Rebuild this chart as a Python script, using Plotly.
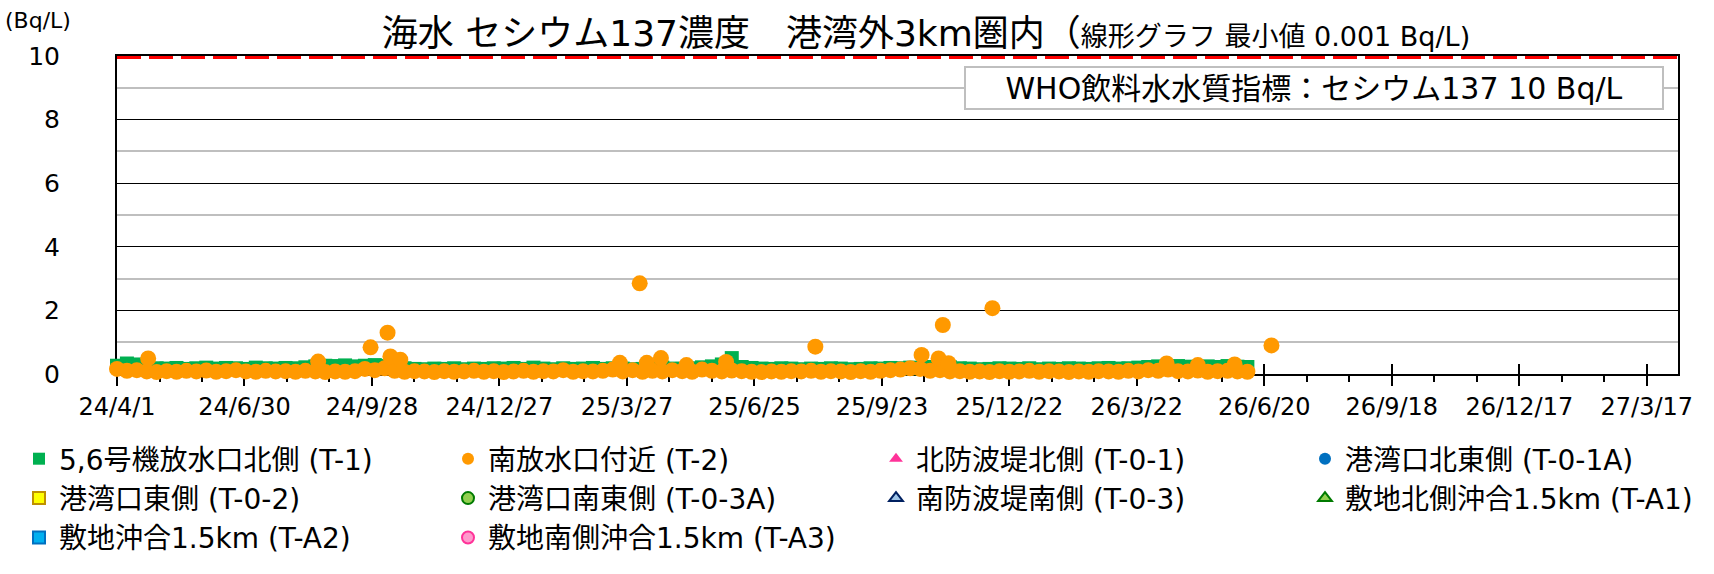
import plotly.graph_objects as go
import pandas as pd

# ---------------- data ----------------
START = "2024-04-01"
N_WEEKS = 115
weekly_dates = pd.date_range(START, periods=N_WEEKS, freq="7D")

# 5,6号機放水口北側 (T-1)  weekly readings (Bq/L)
t1_values = [
    0.26, 0.33, 0.30, 0.22, 0.18, 0.17, 0.19, 0.16, 0.18, 0.20,
    0.17, 0.19, 0.18, 0.16, 0.20, 0.18, 0.17, 0.19, 0.18, 0.21,
    0.24, 0.26, 0.25, 0.27, 0.24, 0.26, 0.28, 0.25, 0.22, 0.18,
    0.16, 0.15, 0.17, 0.16, 0.18, 0.15, 0.17, 0.16, 0.18, 0.17,
    0.19, 0.16, 0.20, 0.17, 0.15, 0.18, 0.16, 0.17, 0.19, 0.16,
    0.18, 0.17, 0.15, 0.16, 0.18, 0.20, 0.17, 0.16, 0.18, 0.21,
    0.24, 0.30, 0.50, 0.22, 0.19, 0.17, 0.16, 0.18, 0.17, 0.15,
    0.17, 0.16, 0.18, 0.17, 0.15, 0.16, 0.18, 0.17, 0.19, 0.18,
    0.20, 0.18, 0.22, 0.24, 0.21, 0.18, 0.17, 0.15, 0.16, 0.18,
    0.17, 0.16, 0.18, 0.15, 0.17, 0.16, 0.18, 0.17, 0.16, 0.18,
    0.19, 0.17, 0.18, 0.20, 0.22, 0.24, 0.22, 0.25, 0.23, 0.21,
    0.24, 0.22, 0.25, 0.23, 0.22,
]

# 南放水口付近 (T-2)  weekly readings (Bq/L)
t2_values = [
    0.16, 0.10, 0.12, 0.08, 0.06, 0.09, 0.07, 0.10, 0.08, 0.11,
    0.07, 0.09, 0.12, 0.08, 0.07, 0.10, 0.08, 0.09, 0.07, 0.10,
    0.08, 0.06, 0.08, 0.07, 0.09, 0.16, 0.12, 0.18, 0.10, 0.07,
    0.09, 0.08, 0.06, 0.09, 0.07, 0.08, 0.10, 0.07, 0.09, 0.06,
    0.08, 0.10, 0.07, 0.09, 0.08, 0.12, 0.07, 0.09, 0.08, 0.10,
    0.14, 0.08, 0.12, 0.07, 0.10, 0.08, 0.12, 0.09, 0.07, 0.14,
    0.10, 0.08, 0.11, 0.09, 0.07, 0.06, 0.08, 0.07, 0.09, 0.08,
    0.10, 0.07, 0.09, 0.08, 0.06, 0.09, 0.07, 0.10, 0.12, 0.14,
    0.18, 0.16, 0.10, 0.12, 0.08, 0.09, 0.07, 0.08, 0.06, 0.09,
    0.07, 0.08, 0.10, 0.07, 0.09, 0.08, 0.06, 0.08, 0.07, 0.09,
    0.08, 0.07, 0.10, 0.08, 0.12, 0.10, 0.14, 0.09, 0.08, 0.11,
    0.07, 0.09, 0.10, 0.08, 0.07,
]

# T-2 additional (higher) readings
t2_peak_dates = [
    "2024-04-23", "2024-08-21", "2024-09-27", "2024-10-09", "2024-10-11",
    "2024-10-18", "2025-03-22", "2025-04-05", "2025-04-10", "2025-04-20",
    "2025-05-08", "2025-06-05", "2025-08-07", "2025-10-21", "2025-11-02",
    "2025-11-05", "2025-11-09", "2025-12-10", "2026-04-12", "2026-05-04",
    "2026-05-30", "2026-06-25",
]
t2_peak_values = [
    0.49, 0.39, 0.84, 1.30, 0.55,
    0.45, 0.35, 2.85, 0.35, 0.50,
    0.28, 0.38, 0.86, 0.60, 0.49,
    1.54, 0.34, 2.07, 0.33, 0.28,
    0.30, 0.90,
]

series_names = [
    "5,6号機放水口北側 (T-1)", "南放水口付近 (T-2)", "北防波堤北側 (T-0-1)",
    "港湾口北東側 (T-0-1A)", "港湾口東側 (T-0-2)", "港湾口南東側 (T-0-3A)",
    "南防波堤南側 (T-0-3)", "敷地北側沖合1.5km (T-A1)", "敷地沖合1.5km (T-A2)",
    "敷地南側沖合1.5km (T-A3)",
]

x_range = ["2024-04-01", "2027-04-08"]
y_range = [0, 10]
WHO_LIMIT = 10
DAY_MS = 86400000

title_main = "海水 セシウム137濃度　港湾外3km圏内（"
title_sub = "線形グラフ 最小値 0.001 Bq/L)"
who_text = "WHO飲料水水質指標：セシウム137 10 Bq/L"
unit_text = "(Bq/L)"

FONT = "DejaVu Sans, Noto Sans CJK JP, sans-serif"

# legend column (1..4) for each series, reading left-to-right, row by row
legend_ids = ["legend", "legend2", "legend3", "legend4"]
series_col = [0, 1, 2, 3, 0, 1, 2, 3, 0, 1]

# ---------------- figure ----------------
fig = go.Figure()

fig.add_trace(go.Scatter(
    x=weekly_dates, y=t1_values, mode="markers", name=series_names[0],
    marker=dict(symbol="square", size=14, color="#00B050", line=dict(width=0)),
    cliponaxis=False, legend=legend_ids[series_col[0]],
))
t2_x = list(weekly_dates.strftime("%Y-%m-%d")) + t2_peak_dates
t2_y = t2_values + t2_peak_values
fig.add_trace(go.Scatter(
    x=t2_x, y=t2_y, mode="markers", name=series_names[1],
    marker=dict(symbol="circle", size=16, color="#FF9900", line=dict(width=0)),
    cliponaxis=False, legend=legend_ids[series_col[1]],
))

empty_styles = [
    dict(symbol="triangle-up", color="#FF3399", line=dict(width=0)),
    dict(symbol="circle", color="#0070C0", line=dict(width=0)),
    dict(symbol="square", color="#FFFF00", line=dict(width=2, color="#BF9000")),
    dict(symbol="circle", color="#92D050", line=dict(width=2, color="#007A00")),
    dict(symbol="triangle-up", color="#9DC3E6", line=dict(width=2, color="#002060")),
    dict(symbol="triangle-up", color="#92D050", line=dict(width=2, color="#007A00")),
    dict(symbol="square", color="#00B0F0", line=dict(width=2, color="#0070C0")),
    dict(symbol="circle", color="#FF99CC", line=dict(width=2, color="#FF3399")),
]
for i, (name, st) in enumerate(zip(series_names[2:], empty_styles), start=2):
    fig.add_trace(go.Scatter(
        x=[None], y=[None], mode="markers", name=name,
        marker=dict(size=10, **st), xaxis="x2",
        legend=legend_ids[series_col[i]],
    ))

W, H = 1714, 574
L, R, T, B = 117, 36, 56, 200
pw = W - L - R
ph = H - T - B

legend_marker_x = [36, 465, 893, 1322]
LEGEND_TOP = 434


def legend_cfg(mx):
    return dict(
        orientation="v", xref="container", yref="container",
        x=(mx - 17) / W, xanchor="left", y=1 - LEGEND_TOP / H, yanchor="top",
        itemsizing="constant", font=dict(family=FONT, size=28, color="#000000"),
        bgcolor="rgba(0,0,0,0)", traceorder="normal", tracegroupgap=0,
    )


fig.update_layout(
    width=W, height=H,
    margin=dict(l=L, r=R, t=T, b=B, pad=0, autoexpand=False),
    paper_bgcolor="white", plot_bgcolor="white",
    font=dict(family=FONT, size=22, color="#000000"),
    showlegend=True,
    title=dict(
        text=f"{title_main}<span style='font-size:27px'>{title_sub}</span>",
        x=926 / W, xref="container", xanchor="center",
        y=1 - 33 / H, yref="container", yanchor="middle",
        font=dict(family=FONT, size=36, color="#000000"),
    ),
    xaxis=dict(
        type="date", range=x_range,
        tick0="2024-04-01", dtick=90 * DAY_MS, tickformat="%y/%-m/%-d",
        ticks="outside", ticklen=10, tickwidth=2, tickcolor="black",
        minor=dict(dtick=30 * DAY_MS, tick0="2024-04-01", ticks="outside",
                   ticklen=6, tickwidth=2, tickcolor="black", showgrid=False),
        showgrid=False, showline=True, linecolor="black", linewidth=2,
        mirror=True, zeroline=False, layer="below traces",
        tickfont=dict(family=FONT, size=24, color="#000000"),
    ),
    xaxis2=dict(
        type="date", range=x_range, overlaying="x", anchor="y", side="bottom",
        tick0="2024-04-01", dtick=90 * DAY_MS,
        ticks="inside", ticklen=10, tickwidth=2, tickcolor="black",
        showticklabels=False, showgrid=False, showline=False, zeroline=False,
        layer="below traces",
    ),
    yaxis=dict(
        range=y_range, dtick=2, tick0=0,
        showgrid=True, gridcolor="#000000", gridwidth=1.3,
        minor=dict(dtick=1, showgrid=True, gridcolor="#BFBFBF", gridwidth=2.2),
        showline=True, linecolor="black", linewidth=2, mirror=True,
        zeroline=False, ticks="", layer="below traces",
        ticklabelstandoff=50,
        tickfont=dict(family=FONT, size=25, color="#000000"),
    ),
    legend=legend_cfg(legend_marker_x[0]),
    legend2=legend_cfg(legend_marker_x[1]),
    legend3=legend_cfg(legend_marker_x[2]),
    legend4=legend_cfg(legend_marker_x[3]),
)

# WHO guideline (10 Bq/L) red dashed line
fig.add_shape(
    type="line", xref="paper", yref="y", x0=0, x1=1, y0=WHO_LIMIT, y1=WHO_LIMIT,
    line=dict(color="#FF0000", width=6, dash="24px,8px"), layer="above",
)

fig.add_annotation(
    text=who_text, xref="paper", yref="paper",
    x=(1664 - L) / pw, xanchor="right", y=(H - B - 66) / ph, yanchor="top",
    showarrow=False, width=694, height=38, align="center", valign="middle",
    bgcolor="white", bordercolor="#BFBFBF", borderwidth=2, borderpad=1,
    font=dict(family=FONT, size=30, color="#000000"),
)
fig.add_annotation(
    text=unit_text, xref="paper", yref="paper",
    x=(38 - L) / pw, xanchor="center", y=(H - B - 20) / ph, yanchor="middle",
    showarrow=False, font=dict(family=FONT, size=22, color="#000000"),
)

fig.write_html(
    "out.html",
    config={"displayModeBar": False},
    post_script="document.body.style.margin='0';document.body.style.overflow='hidden';",
)
